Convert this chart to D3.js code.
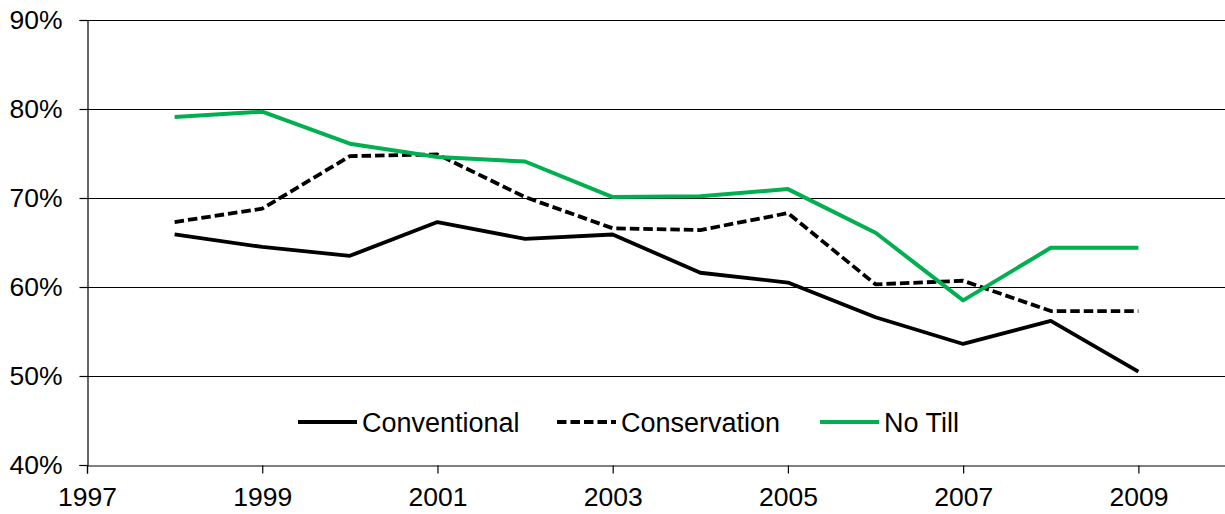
<!DOCTYPE html>
<html>
<head>
<meta charset="utf-8">
<script src="https://cdn.jsdelivr.net/npm/d3@7"></script>
<style>
  html, body { margin: 0; padding: 0; background: #fff; }
  svg { display: block; font-family: Arial, "Liberation Sans", sans-serif; }
</style>
</head>
<body>
<svg id="chart" width="1225" height="514"></svg>
<script>
// Share of acres by tillage practice, 1998-2009
const years = [1998, 1999, 2000, 2001, 2002, 2003, 2004, 2005, 2006, 2007, 2008, 2009];
const conventional = [65.9, 64.5, 63.5, 67.3, 65.4, 65.9, 61.6, 60.5, 56.6, 53.6, 56.2, 50.5];
const conservation = [67.3, 68.8, 74.7, 74.9, 70.1, 66.6, 66.4, 68.3, 60.3, 60.7, 57.3, 57.3];
const noTill       = [79.1, 79.7, 76.1, 74.6, 74.1, 70.1, 70.2, 71.0, 66.1, 58.5, 64.4, 64.4];

const xTicks = [1997, 1999, 2001, 2003, 2005, 2007, 2009];
const yTicks = [40, 50, 60, 70, 80, 90];

const seriesNames = ["Conventional", "Conservation", "No Till"];

const svg = d3.select("#chart");
const plotLeft = 87, plotRight = 1226, plotTop = 20, plotBottom = 465;

const x = d3.scaleLinear().domain([1997, 2010]).range([plotLeft, plotRight]);
const y = d3.scaleLinear().domain([40, 90]).range([plotBottom, plotTop]);

// horizontal gridlines
svg.append("g")
  .selectAll("line")
  .data(yTicks.filter(d => d > 40))
  .join("line")
  .attr("x1", plotLeft).attr("x2", plotRight)
  .attr("y1", d => Math.round(y(d)) + 0.5).attr("y2", d => Math.round(y(d)) + 0.5)
  .attr("stroke", "#000").attr("stroke-width", 1.2);

// y axis
const yAxis = svg.append("g")
  .attr("transform", `translate(${plotLeft + 0.5},0)`)
  .call(d3.axisLeft(y).tickValues(yTicks).tickSize(8).tickPadding(17).tickFormat(d => d + "%"));
yAxis.select(".domain").attr("stroke", "#000").attr("stroke-width", 1.2);
yAxis.selectAll(".tick line").attr("stroke", "#000").attr("stroke-width", 1.2);
yAxis.selectAll(".tick text")
  .attr("font-size", 26.5).attr("fill", "#000")
  .attr("font-family", "Arial, 'Liberation Sans', sans-serif");

// x axis
const xAxis = svg.append("g")
  .attr("transform", `translate(0,${plotBottom + 0.5})`)
  .call(d3.axisBottom(x).tickValues(xTicks).tickSize(8).tickPadding(14).tickFormat(d3.format("d")));
xAxis.select(".domain").attr("stroke", "#000").attr("stroke-width", 1.2);
xAxis.selectAll(".tick line").attr("stroke", "#000").attr("stroke-width", 1.2);
xAxis.selectAll(".tick text")
  .attr("font-size", 26.5).attr("fill", "#000")
  .attr("font-family", "Arial, 'Liberation Sans', sans-serif");

// series lines
const styles = [
  { values: conventional, color: "#000", width: 3.8, dash: null },
  { values: conservation, color: "#000", width: 3.8, dash: "9.5,4" },
  { values: noTill, color: "#00B050", width: 4, dash: null }
];

const line = d3.line()
  .x((d, i) => x(years[i]))
  .y(d => y(d));

styles.forEach(s => {
  svg.append("path")
    .datum(s.values)
    .attr("d", line)
    .attr("fill", "none")
    .attr("stroke", s.color)
    .attr("stroke-width", s.width)
    .attr("stroke-linejoin", "round")
    .attr("stroke-dasharray", s.dash);
});

// legend
const legendX = [298, 557, 820];
const legend = svg.append("g");
seriesNames.forEach((name, i) => {
  const s = styles[i];
  legend.append("line")
    .attr("x1", legendX[i]).attr("x2", legendX[i] + 59)
    .attr("y1", 422).attr("y2", 422)
    .attr("stroke", s.color).attr("stroke-width", s.width)
    .attr("stroke-dasharray", s.dash);
  legend.append("text")
    .attr("x", legendX[i] + 64).attr("y", 432)
    .attr("font-size", 27).attr("fill", "#000")
    .text(name);
});
</script>
</body>
</html>
